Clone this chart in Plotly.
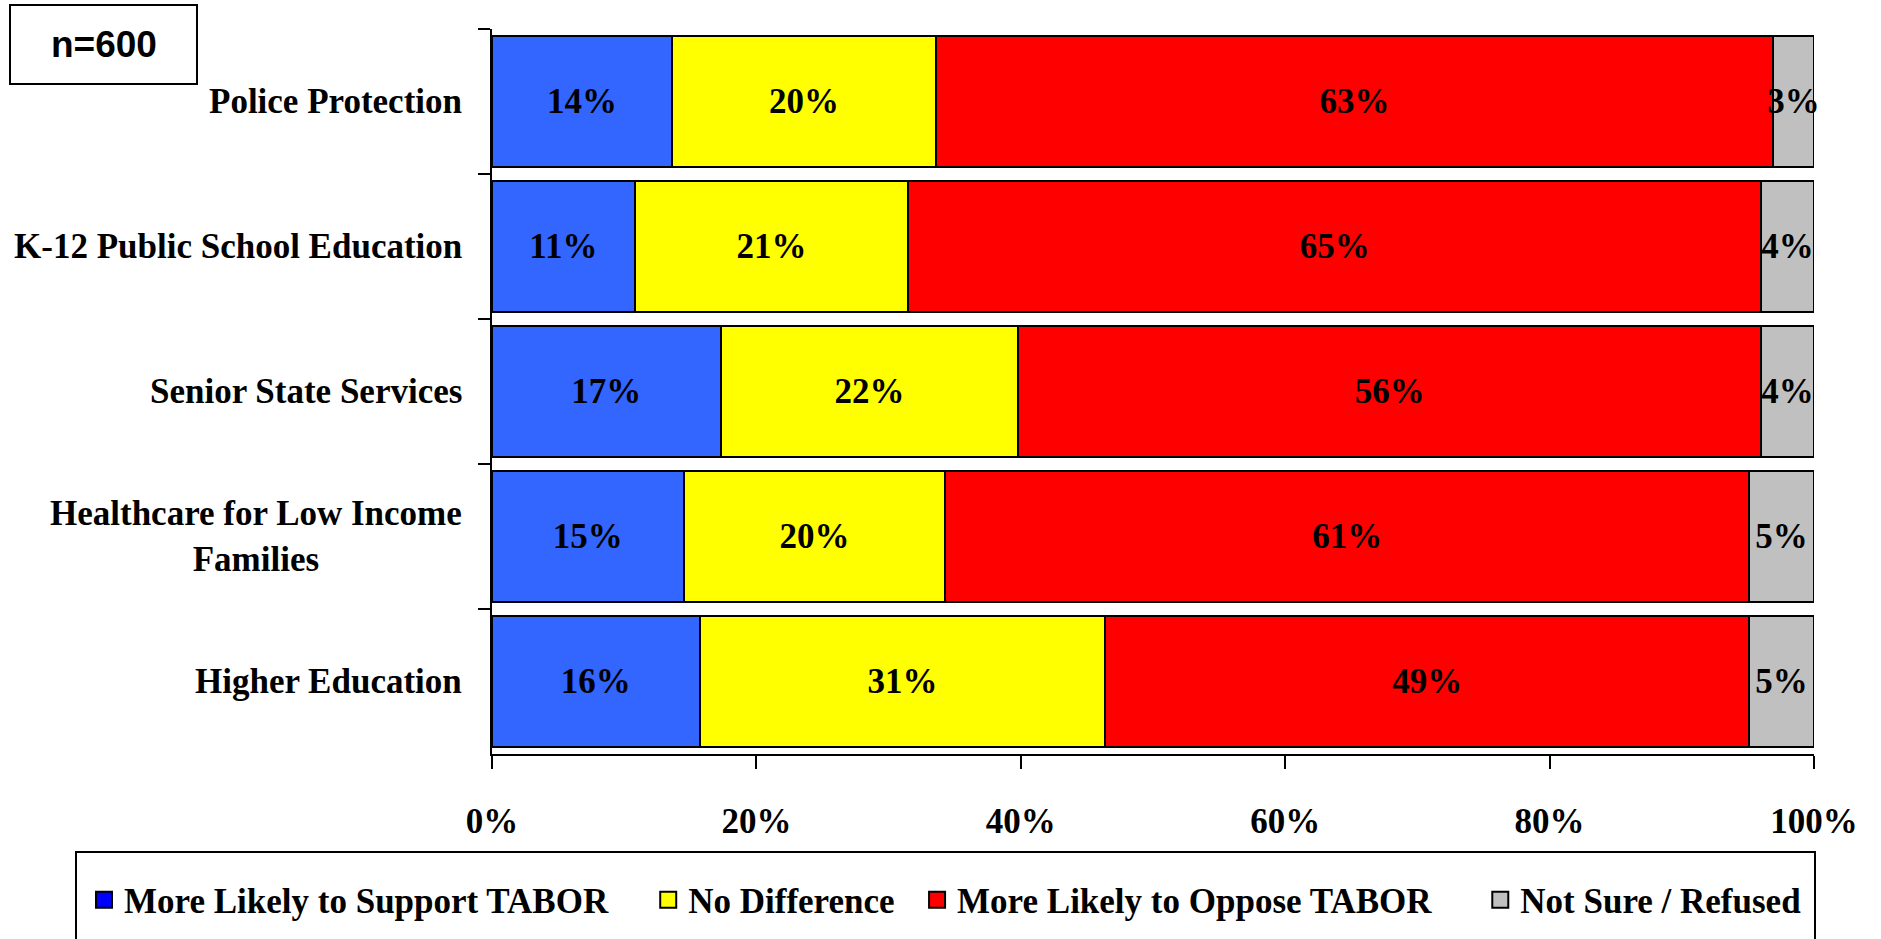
import plotly.graph_objects as go

# ---------------- data ----------------
categories = ["Police Protection", "K-12 Public School Education", "Senior State Services",
              "Healthcare for Low Income Families", "Higher Education"]
category_text = ["Police Protection", "K-12 Public School Education", "Senior State Services",
                 "Healthcare for Low Income<br>Families", "Higher Education"]

series_names = ["More Likely to Support TABOR", "No Difference",
                "More Likely to Oppose TABOR", "Not Sure / Refused"]
support = [13.6, 10.8, 17.3, 14.5, 15.7]
no_difference = [20.0, 20.7, 22.5, 19.8, 30.7]
oppose = [63.3, 64.5, 56.2, 60.8, 48.7]
not_sure = [3.1, 4.0, 4.0, 4.9, 4.9]

support_labels = ["14%", "11%", "17%", "15%", "16%"]
no_difference_labels = ["20%", "21%", "22%", "20%", "31%"]
oppose_labels = ["63%", "65%", "56%", "61%", "49%"]
not_sure_labels = ["3%", "4%", "4%", "5%", "5%"]

x_tick_values = [0, 20, 40, 60, 80, 100]
x_tick_labels = ["0%", "20%", "40%", "60%", "80%", "100%"]
sample_note = "n=600"

# ---------------- styling ----------------
W, H = 1881, 939
PL, PR, PT, PB = 492, 1814, 29, 754
SERIF = "Liberation Serif"
bar_colors = ["#3366FF", "#FFFF00", "#FF0000", "#C0C0C0"]
legend_colors = ["#0000FF", "#FFFF00", "#FF0000", "#C0C0C0"]
legend_pad = [4, 2, 5, 0]  # extra spacing after each legend entry (nbsp count)


def px_x(x):
    return (x - PL) / (PR - PL)


def px_y(y):
    return (PB - y) / (PB - PT)


fig = go.Figure()
values = [support, no_difference, oppose, not_sure]
labels = [support_labels, no_difference_labels, oppose_labels, not_sure_labels]
for name, vals, lbls, col in zip(series_names, values, labels, bar_colors):
    fig.add_trace(go.Bar(
        y=categories, x=vals, orientation="h", name=name,
        marker=dict(color=col, line=dict(color="black", width=2)),
        text=lbls, textposition="inside", insidetextanchor="middle",
        textangle=0, constraintext="none", cliponaxis=False,
        textfont=dict(family=SERIF, size=35, color="black", weight="bold"),
        showlegend=False, hoverinfo="skip",
    ))

# legend entries
for name, col, pad in zip(series_names, legend_colors, legend_pad):
    fig.add_trace(go.Scatter(
        x=[None], y=[None], mode="markers", name=name + "\u00a0" * pad,
        marker=dict(symbol="square", size=18, color=col, line=dict(color="black", width=2)),
        showlegend=True,
    ))

annotations = []
for cat, txt in zip(categories, category_text):
    annotations.append(dict(
        x=px_x(464), xref="paper", xanchor="right",
        y=cat, yref="y", yanchor="middle",
        text=txt, showarrow=False, align="center",
        font=dict(family=SERIF, size=35, color="black", weight="bold"),
    ))
annotations.append(dict(
    x=px_x(104), y=px_y(45), xref="paper", yref="paper",
    xanchor="center", yanchor="middle", text=sample_note, showarrow=False,
    font=dict(family="Liberation Sans", size=37, color="black", weight="bold"),
))

shapes = [
    dict(type="rect", xref="paper", yref="paper",
         x0=px_x(10), x1=px_x(197), y0=px_y(84), y1=px_y(5),
         line=dict(color="black", width=2), fillcolor="white"),
    dict(type="rect", xref="paper", yref="paper",
         x0=px_x(76), x1=px_x(1815), y0=px_y(960), y1=px_y(852),
         line=dict(color="black", width=2)),
]

fig.update_layout(
    width=W, height=H,
    margin=dict(l=PL, r=W - PR, t=PT, b=H - PB, autoexpand=False),
    barmode="stack", bargap=0.09,
    plot_bgcolor="white", paper_bgcolor="white",
    font=dict(family=SERIF, size=35, color="black"),
    xaxis=dict(
        range=[0, 100], tickvals=x_tick_values, ticktext=x_tick_labels,
        showgrid=False, zeroline=False, showline=True, linecolor="black", linewidth=2,
        ticks="outside", ticklen=13, tickwidth=2, tickcolor="black",
        tickfont=dict(family=SERIF, size=35, color="black", weight="bold"),
        ticklabelstandoff=22,
    ),
    yaxis=dict(
        type="category", categoryorder="array", categoryarray=categories,
        autorange="reversed", showgrid=False, zeroline=False,
        showline=True, linecolor="black", linewidth=2,
        ticks="outside", ticklen=12, tickwidth=2, tickcolor="black",
        tickson="boundaries", showticklabels=False,
    ),
    showlegend=True,
    legend=dict(
        orientation="h", traceorder="normal",
        x=px_x(84), xanchor="left", y=px_y(900), yanchor="middle",
        font=dict(family=SERIF, size=35, color="black", weight="bold"),
        bgcolor="rgba(0,0,0,0)", borderwidth=0, itemclick=False,
    ),
    annotations=annotations, shapes=shapes,
)

fig.write_html("out.html", config={"displayModeBar": False},
               post_script="document.body.style.margin='0px';")
